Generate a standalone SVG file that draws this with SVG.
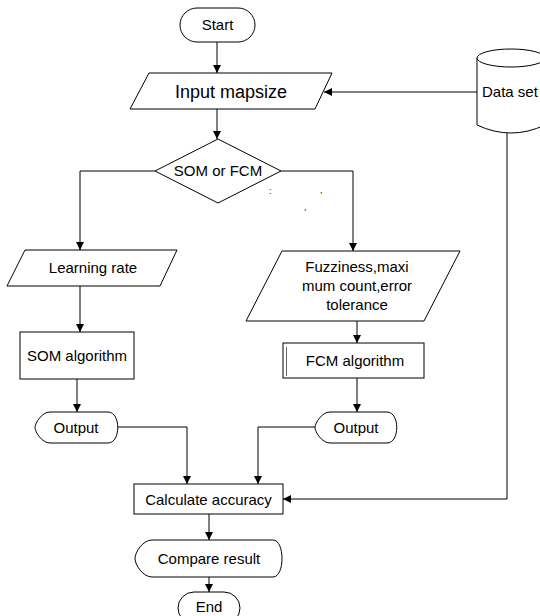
<svg xmlns="http://www.w3.org/2000/svg" width="540" height="616" viewBox="0 0 540 616">
<defs>
<marker id="ah" markerWidth="8" markerHeight="8" refX="8" refY="4" orient="auto" markerUnits="userSpaceOnUse">
<path d="M0,0 L8,4 L0,8 Z" fill="#000"/>
</marker>
<style>
.s{fill:#fff;stroke:#000;stroke-width:1}
.t{font-family:"Liberation Sans",Arial,sans-serif;font-size:15px;fill:#000;text-anchor:middle}
.c{fill:none;stroke:#000;stroke-width:1;marker-end:url(#ah)}
.m{font-family:"Liberation Sans",Arial,sans-serif;font-size:9px;fill:#000}
</style>
</defs>
<rect width="540" height="616" fill="#fff"/>
<g id="connectors">
<path class="c" d="M217,42 V73"/>
<path class="c" d="M477,92 H324"/>
<path class="c" d="M217,109 V139"/>
<path class="c" d="M155,171 H80 V250"/>
<path class="c" d="M281,171 H353 V251"/>
<path class="c" d="M80,286 V332"/>
<path class="c" d="M77,379 V412"/>
<path class="c" d="M357,321 V343"/>
<path class="c" d="M357,378 V412"/>
<path class="c" d="M118,427 H187 V484"/>
<path class="c" d="M315,427 H258 V484"/>
<path class="c" d="M507,133 V499 H283"/>
<path class="c" d="M209,514 V540"/>
<path class="c" d="M209,577 V592"/>
</g>
<g id="start">
<rect class="s" x="180" y="8" width="75" height="34" rx="17"/>
<text class="t" x="217.5" y="30">Start</text>
</g>
<g id="input-mapsize">
<polygon class="s" points="149,73 332,73 315,109 130,109"/>
<text class="t" x="231" y="98" style="font-size:18px">Input mapsize</text>
</g>
<g id="data-set">
<path class="s" d="M477,58 V125 Q511,141 545,125 V58"/>
<ellipse class="s" cx="511" cy="58" rx="34" ry="9"/>
<text class="t" x="482" y="97" style="text-anchor:start">Data set</text>
</g>
<g id="decision">
<polygon class="s" points="218,139 281,171 218,203 155,171"/>
<text class="t" x="218" y="176">SOM or FCM</text>
<text class="m" x="269" y="194">:</text>
<text class="m" x="320" y="193">,</text>
<text class="m" x="304" y="210">,</text>
</g>
<g id="learning-rate">
<polygon class="s" points="25,250 177,250 160,286 7,286"/>
<text class="t" x="93" y="273">Learning rate</text>
</g>
<g id="fuzziness">
<polygon class="s" points="282,251 460,251 424,321 246,321"/>
<text class="t" x="357" y="272">Fuzziness,maxi</text>
<text class="t" x="357" y="291">mum count,error</text>
<text class="t" x="357" y="310">tolerance</text>
</g>
<g id="som-algorithm">
<rect class="s" x="20" y="332" width="114" height="47"/>
<text class="t" x="77" y="361">SOM algorithm</text>
</g>
<g id="fcm-algorithm">
<rect class="s" x="283" y="343" width="141" height="35"/>
<line x1="286.5" y1="347" x2="286.5" y2="376" stroke="#666" stroke-width="1"/>
<text class="t" x="355" y="366">FCM algorithm</text>
</g>
<g id="output-som">
<path class="s" d="M50,412 H108 C121,412 121,443 108,443 H50 C42,443 35,432 35,427.5 C35,423 42,412 50,412 Z"/>
<text class="t" x="76" y="433">Output</text>
</g>
<g id="output-fcm">
<path class="s" d="M330,412 H387 C400,412 400,443 387,443 H330 C322,443 315,432 315,427.5 C315,423 322,412 330,412 Z"/>
<text class="t" x="356" y="433">Output</text>
</g>
<g id="calculate-accuracy">
<rect class="s" x="134" y="484" width="149" height="30"/>
<text class="t" x="208.5" y="505">Calculate accuracy</text>
</g>
<g id="compare-result">
<path class="s" d="M152,540 H273 C285,540 285,577 273,577 H152 C143,577 135,565 135,558.5 C135,552 143,540 152,540 Z"/>
<text class="t" x="209" y="564">Compare result</text>
</g>
<g id="end">
<rect class="s" x="178" y="592" width="62" height="32" rx="16"/>
<text class="t" x="209" y="612">End</text>
</g>
</svg>
